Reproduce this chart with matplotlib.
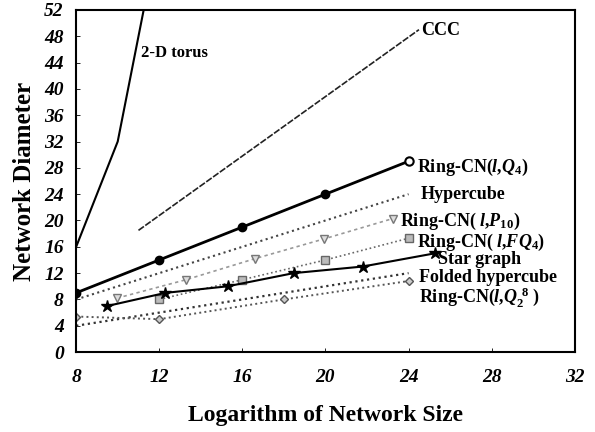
import matplotlib.pyplot as plt

plt.rcParams['font.family'] = ['Liberation Serif', 'DejaVu Serif']
plt.rcParams['font.weight'] = 'bold'
plt.rcParams['mathtext.fontset'] = 'custom'
plt.rcParams['mathtext.rm'] = 'Liberation Serif:bold'
plt.rcParams['mathtext.it'] = 'Liberation Serif:bold:italic'
plt.rcParams['mathtext.bf'] = 'Liberation Serif:bold'

# data
torus_x = [8, 10, 12]
torus_y = [16, 32, 64]
ccc_x = [11, 24.5]
ccc_y = [18.5, 49]
q4_x = [8, 12, 16, 20, 24]
q4_y = [9, 14, 19, 24, 29]
hyper_x = [8, 24]
hyper_y = [8, 24]
p10_x = [9.97, 13.29, 16.61, 19.93, 23.25]
p10_y = [8.2, 11, 14.2, 17.2, 20.3]
fq4_x = [12, 16, 20, 24]
fq4_y = [8, 11, 14, 17.3]
star_x = [9.49, 12.3, 15.3, 18.47, 21.79, 25.25]
star_y = [7, 9, 10, 12, 13, 15]
folded_x = [8, 24]
folded_y = [4, 12]
q28_x = [8, 12, 18, 24]
q28_y = [5.4, 5, 8, 10.8]

fig = plt.figure(figsize=(5.95, 4.32), dpi=100)
ax = fig.add_axes([0.128, 0.185, 0.838, 0.792])

ax.plot(torus_x, torus_y, color='black', lw=1.5)
ax.plot(ccc_x, ccc_y, color='#222222', lw=1.2, ls=(0, (4, 1)))
ax.plot(q4_x, q4_y, color='black', lw=2, marker='o', ms=6, markevery=[0, 1, 2, 3])
ax.plot(q4_x[-1:], q4_y[-1:], ls='none', marker='o', ms=6, mfc='white', mec='black', mew=1.5)
ax.plot(hyper_x, hyper_y, color='#444444', lw=1.5, ls=':')
ax.plot(p10_x, p10_y, color='#999999', lw=1.2, ls=(0, (2, 2)),
        marker='v', ms=6, mfc='#dddddd', mec='#777777')
ax.plot(fq4_x, fq4_y, color='#666666', lw=1.2, ls=':',
        marker='s', ms=6, mfc='#bbbbbb', mec='#666666')
ax.plot(star_x, star_y, color='black', lw=1.5, marker='*', ms=9)
ax.plot(folded_x, folded_y, color='#333333', lw=1.6, ls=':')
ax.plot(q28_x, q28_y, color='#555555', lw=1.4, ls=':',
        marker='D', ms=4.5, mfc='#cccccc', mec='#555555')

lab = dict(fontsize=13, fontweight='bold', va='center', ha='left')
ax.text(11.1, 45.4, '2-D torus', fontsize=12, fontweight='bold', va='center', ha='left')
ax.text(24.6, 48.9, 'CCC', **lab)
ax.text(24.4, 28.0, r'Ring-CN($l$,$Q_4$)', **lab)
ax.text(24.6, 23.9, 'Hypercube', **lab)
ax.text(23.6, 19.8, r'Ring-CN( $l$,$P_{10}$)', **lab)
ax.text(24.4, 16.7, r'Ring-CN( $l$,$FQ_4$)', **lab)
ax.text(25.4, 14.0, 'Star graph', **lab)
ax.text(24.5, 11.3, 'Folded hypercube', **lab)
ax.text(24.5, 8.4, r'Ring-CN($l$,$Q_2^{\ 8}$ )', **lab)

ax.set_xlim(8, 32)
ax.set_ylim(0, 52)
ax.set_xticks(range(8, 33, 4))
ax.set_yticks(range(0, 53, 4))
ax.tick_params(direction='in', length=3, width=0.6, labelsize=14, pad=12)
ax.tick_params(axis='y', pad=9)
for t in ax.get_xticklabels() + ax.get_yticklabels():
    t.set_fontstyle('italic')
    t.set_fontweight('bold')
for s in ax.spines.values():
    s.set_linewidth(1.5)

ax.set_xlabel('Logarithm of Network Size', fontsize=17, fontweight='bold', labelpad=14)
ax.set_ylabel('Network Diameter', fontsize=18, fontweight='bold', labelpad=6)

fig.savefig('out.png', dpi=100)
